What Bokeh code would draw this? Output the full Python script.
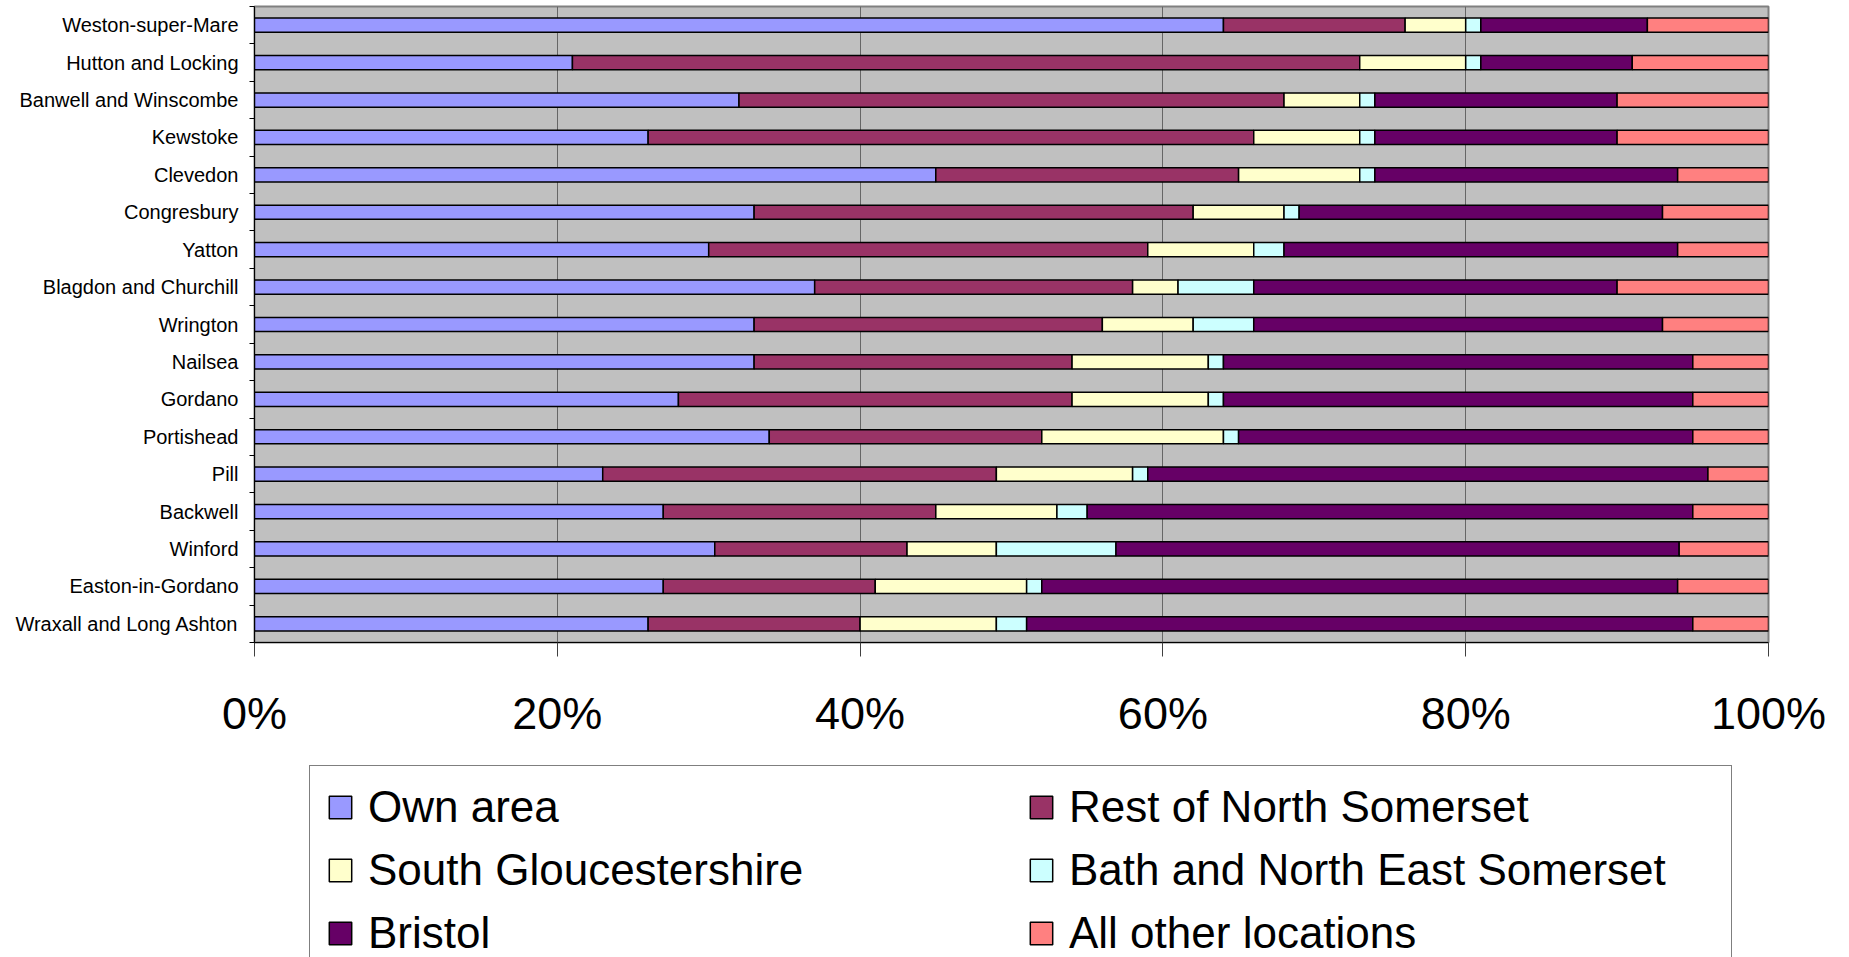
from bokeh.plotting import figure
from bokeh.layouts import column
from bokeh.models import (Range1d, FixedTicker, PrintfTickFormatter, Legend,
                          LegendItem, ColumnDataSource)
from bokeh.embed import file_html
from bokeh.resources import INLINE

# ---- data (top row first) ----
areas = ["Weston-super-Mare", "Hutton and Locking", "Banwell and Winscombe",
         "Kewstoke", "Clevedon", "Congresbury", "Yatton",
         "Blagdon and Churchill", "Wrington", "Nailsea", "Gordano",
         "Portishead", "Pill", "Backwell", "Winford", "Easton-in-Gordano",
         "Wraxall and Long Ashton"]
own_area = [64, 21, 32, 26, 45, 33, 30, 37, 33, 33, 28, 34, 23, 27, 30.4, 27, 26]
rest_of_north_somerset = [12, 52, 36, 40, 20, 29, 29, 21, 23, 21, 26, 18, 26, 18, 12.7, 14, 14]
south_gloucestershire = [4, 7, 5, 7, 8, 6, 7, 3, 6, 9, 9, 12, 9, 8, 5.9, 10, 9]
bath_ne_somerset = [1, 1, 1, 1, 1, 1, 2, 5, 4, 1, 1, 1, 1, 2, 7.9, 1, 2]
bristol = [11, 10, 16, 16, 20, 24, 26, 24, 27, 31, 31, 30, 37, 40, 37.2, 42, 44]
all_other = [8, 9, 10, 10, 6, 7, 6, 10, 7, 5, 5, 5, 4, 5, 5.9, 6, 5]

series_keys = ["own", "rest", "sglos", "banes", "bristol", "other"]
series_labels = ["Own area", "Rest of North Somerset", "South Gloucestershire",
                 "Bath and North East Somerset", "Bristol", "All other locations"]
series_colors = ["#9999FF", "#993366", "#FFFFCC", "#CCFFFF", "#660066", "#FF8080"]
x_ticks = [0, 20, 40, 60, 80, 100]

n = len(areas)
pos = [n - 1 - i for i in range(n)]

source = ColumnDataSource(dict(
    pos=pos, own=own_area, rest=rest_of_north_somerset,
    sglos=south_gloucestershire, banes=bath_ne_somerset,
    bristol=bristol, other=all_other))

FONT = "Liberation Sans"
W = 1845

p = figure(width=W, height=760, output_backend="svg", toolbar_location=None,
           x_range=Range1d(0, 100), y_range=Range1d(-0.5, n - 0.5),
           min_border_left=254, min_border_right=77, min_border_top=6,
           min_border_bottom=118)
p.background_fill_color = "#C0C0C0"
p.border_fill_color = "white"
p.outline_line_color = "#808080"
p.outline_line_width = 2

p.hbar_stack(series_keys, y="pos", height=0.38, color=series_colors,
             source=source, line_color="black", line_width=1.5)

# x axis
p.xaxis.ticker = FixedTicker(ticks=x_ticks, minor_ticks=[])
p.xaxis.formatter = PrintfTickFormatter(format="%d%%")
p.xaxis.major_label_text_font = FONT
p.xaxis.major_label_text_font_size = "45px"
p.xaxis.major_label_text_color = "black"
p.xaxis.major_tick_out = 14
p.xaxis.major_tick_in = 0
p.xaxis.major_tick_line_color = "#404040"
p.xaxis.axis_line_color = "black"
p.xaxis.major_label_standoff = 31

# y axis: labels at centres, ticks at category boundaries
p.yaxis.ticker = FixedTicker(ticks=pos, minor_ticks=[k - 0.5 for k in range(n + 1)])
p.yaxis.major_label_overrides = {pos[i]: areas[i] for i in range(n)}
p.yaxis.major_tick_out = 0
p.yaxis.major_tick_in = 0
p.yaxis.minor_tick_out = 5
p.yaxis.minor_tick_in = 0
p.yaxis.minor_tick_line_color = "black"
p.yaxis.axis_line_color = "black"
p.yaxis.major_label_text_font = FONT
p.yaxis.major_label_text_font_size = "20px"
p.yaxis.major_label_text_color = "black"
p.yaxis.major_label_standoff = 11

p.xgrid.ticker = FixedTicker(ticks=x_ticks)
p.xgrid.grid_line_color = "#666666"
p.xgrid.grid_line_width = 1
p.ygrid.visible = False

# ---- legend figure (same frame columns; legend runs past its lower edge) ----
q = figure(width=W, height=197, output_backend="svg", toolbar_location=None,
           x_range=Range1d(0, 100), y_range=Range1d(-20, -19),
           x_axis_type=None, y_axis_type=None, outline_line_color=None,
           min_border_left=254, min_border_right=77, min_border_top=0,
           min_border_bottom=0)
q.outline_line_alpha = 0
q.background_fill_color = "white"
q.border_fill_color = "white"
q.grid.visible = False
legend_renderers = q.hbar_stack(series_keys, y="pos", height=0.38,
                                color=series_colors, source=source,
                                line_color="black", line_width=1.5)
for r in legend_renderers:
    r.visible = False

items = [LegendItem(label=lab, renderers=[r])
         for lab, r in zip(series_labels, legend_renderers)]
legend = Legend(items=items, orientation="horizontal", ncols=2,
                location=(55, -18), label_text_font=FONT,
                label_text_font_size="44px", label_text_color="black",
                glyph_width=28, glyph_height=28, label_standoff=14,
                spacing=13, padding=16, margin=0, label_width=646,
                border_line_color="black", border_line_width=1,
                background_fill_color="white", background_fill_alpha=1.0,
                inactive_fill_alpha=0.0)
q.add_layout(legend, "center")

layout = column(p, q, spacing=0)
open("out.html", "w").write(file_html(layout, INLINE))
